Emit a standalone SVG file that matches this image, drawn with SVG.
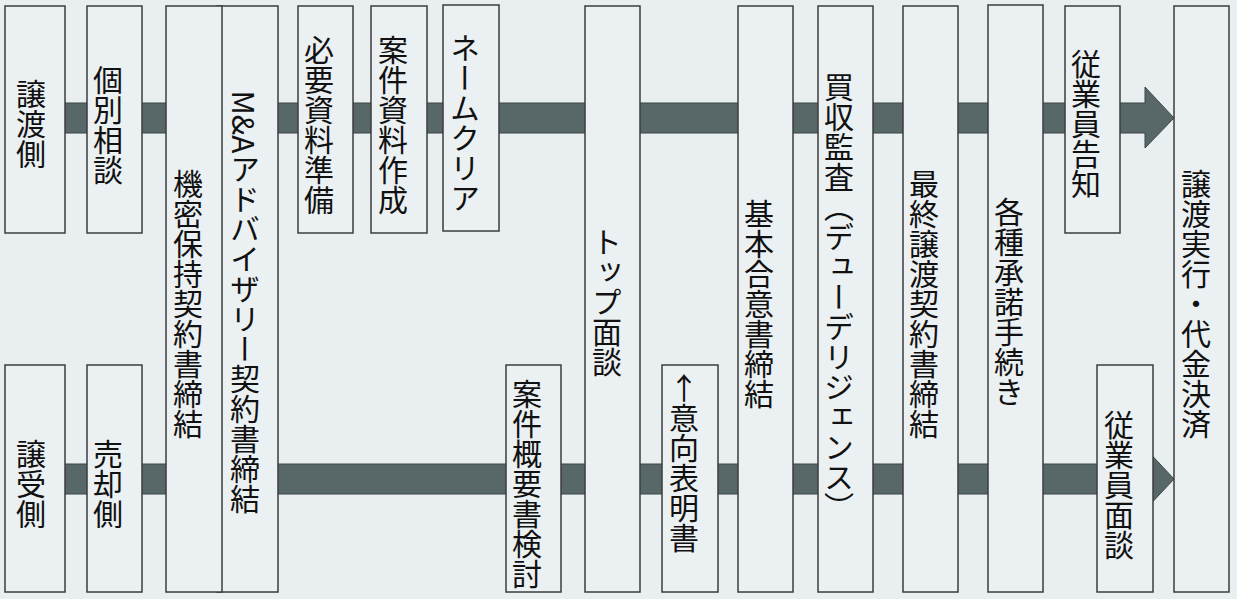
<svg xmlns="http://www.w3.org/2000/svg" width="1237" height="599" viewBox="0 0 1237 599">
<style>
.bg{fill:#E9EEF0}
.box{fill:#EBF0F2;stroke:#3C3C3C;stroke-width:1.5}
.band{fill:#586869;stroke:#3B4646;stroke-width:1}
.t{font-family:"Noto Sans CJK JP","Noto Sans CJK SC",sans-serif;font-size:30px;fill:#111;writing-mode:vertical-rl;text-orientation:mixed;text-anchor:middle}
.up{text-orientation:upright}
</style>
<rect class="bg" x="0" y="0" width="1237" height="599"/>
<g id="connectors">
<polygon class="band" points="35,103 1145,103 1145,87 1174,118 1145,148 1145,133 35,133"/>
<polygon class="band" points="35,464 1145,464 1145,448 1174,479 1145,510 1145,494 35,494"/>
</g>
<g id="n-jotogawa"><rect class="box" x="5" y="6" width="60" height="227"/><text class="t" x="31" y="124">譲渡側</text></g>
<g id="n-kobetsu"><rect class="box" x="87" y="6" width="55" height="227"/><text class="t" x="108" y="125">個別相談</text></g>
<g id="n-ma"><rect class="box" x="217" y="6" width="61" height="586"/><text class="t" x="245" y="302">M&amp;Aアドバイザリー契約書締結</text></g>
<g id="n-kimitsu"><rect class="box" x="166" y="6" width="56" height="586"/><text class="t" x="188" y="304">機密保持契約書締結</text></g>
<g id="n-hitsuyo"><rect class="box" x="298" y="6" width="55" height="227"/><text class="t" x="319" y="125">必要資料準備</text></g>
<g id="n-anken-shiryo"><rect class="box" x="371" y="6" width="56" height="227"/><text class="t" x="393" y="125">案件資料作成</text></g>
<g id="n-name"><rect class="box" x="443" y="5" width="56" height="226"/><text class="t" x="465" y="123">ネームクリア</text></g>
<g id="n-top"><rect class="box" x="585" y="6" width="55" height="586"/><text class="t" x="607" y="302">トップ面談</text></g>
<g id="n-kihon"><rect class="box" x="738" y="6" width="55" height="586"/><text class="t" x="759" y="304">基本合意書締結</text></g>
<g id="n-dd"><rect class="box" x="818" y="6" width="55" height="586"/><text class="t" x="839" y="297">買収監査（デューデリジェンス）</text></g>
<g id="n-saishu"><rect class="box" x="903" y="6" width="55" height="586"/><text class="t" x="924" y="304">最終譲渡契約書締結</text></g>
<g id="n-kakushu"><rect class="box" x="988" y="5" width="55" height="587"/><text class="t" x="1009" y="302">各種承諾手続き</text></g>
<g id="n-kokuchi"><rect class="box" x="1065" y="6" width="55" height="227"/><text class="t" x="1086" y="124">従業員告知</text></g>
<g id="n-jikko"><rect class="box" x="1174" y="6" width="55" height="586"/><text class="t" x="1196" y="304">譲渡実行・代金決済</text></g>
<g id="n-jojugawa"><rect class="box" x="5" y="365" width="60" height="227"/><text class="t" x="31" y="484">譲受側</text></g>
<g id="n-baikyaku"><rect class="box" x="87" y="365" width="55" height="227"/><text class="t" x="108" y="484">売却側</text></g>
<g id="n-gaiyo"><rect class="box" x="506" y="365" width="55" height="227"/><text class="t" x="527" y="484">案件概要書検討</text></g>
<g id="n-iko"><rect class="box" x="662" y="365" width="56" height="227"/><text class="t up" x="684" y="463">↑意向表明書</text></g>
<g id="n-mendan"><rect class="box" x="1097" y="365" width="56" height="227"/><text class="t" x="1119" y="485">従業員面談</text></g>
</svg>
